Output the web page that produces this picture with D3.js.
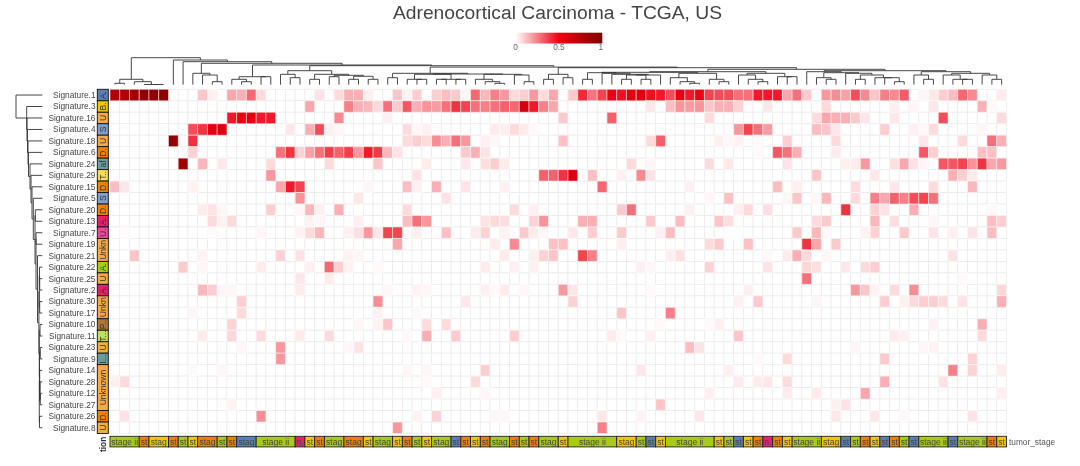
<!DOCTYPE html>
<html>
<head>
<meta charset="utf-8">
<script src="https://d3js.org/d3.v7.min.js"></script>
<style>
  body { margin: 0; background: #fff; }
  svg { display: block; filter: blur(0.3px); }
  text { font-family: "Liberation Sans", Arial, sans-serif; }
</style>
</head>
<body>
<div id="viz-container"></div>
<script>
const signatures = ['Signature.1','Signature.3','Signature.16','Signature.4','Signature.18','Signature.6','Signature.24','Signature.29','Signature.15','Signature.5','Signature.20','Signature.13','Signature.7','Signature.19','Signature.21','Signature.22','Signature.25','Signature.2','Signature.30','Signature.17','Signature.10','Signature.11','Signature.23','Signature.9','Signature.14','Signature.28','Signature.12','Signature.27','Signature.26','Signature.8'];

// [column, exposure] for the cells that are not empty
const sig1 = [[0,.8],[1,.8],[2,.85],[3,.92],[4,.92],[5,.95],[9,.15],[10,.05],[12,.22],[13,.2],[14,.35],[15,.1],[21,.08],[23,.1],[24,.2],[25,.2],[26,.05],[29,.15],[30,.04],[31,.13],[33,.13],[34,.17],[35,.14],[36,.03],[37,.35],[38,.18],[39,.3],[40,.25],[41,.1],[42,.13],[43,.25],[44,.1],[45,.22],[47,.14],[48,.47],[49,.32],[50,.42],[51,.55],[52,.52],[53,.6],[54,.6],[55,.52],[56,.5],[57,.4],[58,.55],[59,.5],[60,.55],[61,.42],[62,.4],[63,.4],[64,.33],[65,.33],[66,.5],[67,.5],[68,.5],[69,.22],[70,.33],[71,.14],[73,.25],[74,.27],[75,.23],[76,.4],[77,.28],[78,.15],[79,.3],[80,.28],[81,.37],[83,.03],[84,.07],[85,.13],[86,.17],[87,.35],[88,.28],[91,.06]];
const sig3 = [[20,.22],[24,.3],[25,.2],[26,.18],[27,.1],[28,.33],[29,.14],[30,.38],[31,.2],[32,.26],[33,.24],[34,.33],[35,.45],[36,.42],[37,.33],[38,.3],[39,.33],[40,.36],[41,.35],[42,.65],[43,.5],[44,.3],[45,.22],[55,.07],[57,.17],[58,.26],[59,.24],[60,.26],[61,.15],[62,.2],[63,.2],[64,.12],[67,.07],[73,.1],[80,.05],[82,.03],[84,.07],[89,.2],[90,.02]];
const sig16 = [[12,.5],[13,.55],[14,.57],[15,.5],[16,.5],[23,.28],[28,.05],[46,.14],[51,.36],[61,.1],[72,.1],[73,.22],[74,.2],[75,.2],[76,.14],[77,.07],[80,.07],[85,.4],[91,.1]];
const sig4 = [[8,.4],[9,.45],[10,.58],[11,.62],[18,.07],[20,.2],[21,.4],[22,.05],[23,.03],[30,.1],[31,.03],[32,.05],[39,.06],[40,.05],[41,.1],[42,.06],[43,.02],[64,.25],[65,.42],[66,.33],[67,.24],[72,.17],[73,.15],[74,.07],[79,.13],[82,.05],[83,.02],[84,.1],[89,.03]];
const sig18 = [[6,.92],[8,.45],[30,.1],[31,.13],[32,.1],[33,.27],[34,.2],[35,.33],[36,.25],[38,.05],[39,.03],[46,.16],[55,.1],[56,.36],[62,.05],[63,.03],[64,.04],[66,.02],[69,.13],[74,.1],[83,.07],[87,.1],[90,.33],[91,.2]];
const sig6 = [[8,.12],[17,.33],[18,.45],[19,.12],[20,.23],[21,.33],[22,.43],[23,.36],[24,.43],[25,.25],[26,.5],[27,.44],[28,.18],[29,.08],[36,.14],[37,.2],[38,.08],[66,.02],[68,.38],[69,.33],[70,.2],[74,.06],[83,.38],[84,.13],[89,.16],[90,.16]];
const sig24 = [[7,.85],[9,.18],[11,.07],[16,.1],[22,.1],[27,.15],[32,.06],[36,.07],[38,.09],[39,.13],[40,.06],[53,.1],[55,.03],[61,.1],[63,.07],[69,.08],[75,.05],[76,.06],[77,.25],[80,.09],[81,.22],[82,.08],[83,.03],[85,.38],[86,.38],[87,.42],[88,.26],[89,.45],[90,.22],[91,.25]];
const sig29 = [[16,.25],[31,.08],[44,.36],[45,.36],[46,.45],[47,.62],[49,.16],[52,.05],[54,.28],[55,.08],[72,.15],[78,.07],[86,.2],[87,.13],[88,.06]];
const sig15 = [[0,.17],[1,.07],[8,.04],[17,.22],[18,.5],[19,.42],[26,.03],[30,.17],[31,.05],[33,.2],[36,.08],[40,.05],[50,.35],[59,.05],[68,.17],[70,.05],[76,.1],[80,.07],[84,.1],[88,.18]];
const sig5 = [[19,.26],[25,.07],[34,.08],[61,.03],[63,.16],[69,.03],[70,.15],[72,.03],[73,.18],[76,.1],[78,.3],[79,.22],[80,.36],[81,.3],[82,.4],[83,.42],[84,.33]];
const sig20 = [[9,.06],[10,.08],[11,.03],[16,.13],[19,.03],[20,.18],[21,.05],[23,.2],[30,.1],[41,.1],[43,.05],[52,.14],[53,.33],[59,.05],[64,.05],[65,.1],[67,.09],[75,.45],[78,.12],[79,.08],[82,.2],[90,.02]];
const sig13 = [[10,.1],[11,.04],[12,.1],[20,.04],[21,.03],[25,.05],[30,.17],[31,.33],[32,.25],[38,.08],[39,.1],[40,.09],[43,.12],[44,.26],[48,.2],[49,.2],[55,.14],[58,.17],[62,.15],[63,.09],[72,.1],[73,.14],[78,.18],[80,.09],[84,.03],[90,.17],[91,.13]];
const sig7 = [[1,.015],[10,.015],[15,.03],[19,.04],[20,.1],[21,.18],[24,.05],[25,.09],[26,.25],[27,.07],[28,.42],[29,.42],[31,.05],[34,.16],[37,.06],[38,.12],[40,.04],[42,.14],[43,.06],[44,.03],[47,.07],[49,.13],[52,.14],[56,.05],[57,.17],[63,.01],[64,.01],[70,.14],[72,.18],[73,.02],[77,.04],[78,.12],[81,.14],[84,.08],[86,.05],[88,.08],[90,.17]];
const sig19 = [[29,.22],[39,.06],[41,.28],[45,.16],[46,.16],[52,.05],[61,.1],[62,.14],[65,.16],[71,.45],[72,.22],[74,.14]];
const sig21 = [[2,.15],[9,.04],[17,.12],[19,.08],[24,.04],[25,.03],[40,.06],[43,.05],[44,.12],[45,.15],[48,.42],[49,.3],[57,.05],[58,.09],[67,.02],[69,.06],[70,.2],[71,.1],[73,.03],[86,.08]];
const sig22 = [[7,.14],[9,.03],[15,.06],[20,.05],[22,.35],[23,.13],[24,.04],[27,.02],[38,.06],[41,.05],[43,.05],[54,.05],[55,.03],[61,.12],[67,.08],[71,.11],[72,.09],[75,.07],[77,.1],[78,.13]];
const sig25 = [[19,.07],[22,.06],[71,.33],[87,.02]];
const sig2 = [[9,.18],[10,.13],[11,.03],[12,.03],[19,.06],[28,.03],[31,.04],[32,.03],[38,.05],[39,.02],[40,.06],[42,.03],[46,.25],[47,.07],[55,.02],[65,.05],[76,.25],[77,.15],[78,.04],[80,.1],[82,.27],[91,.11]];
const sig30 = [[13,.13],[27,.27],[36,.07],[47,.12],[64,.05],[66,.14],[72,.03],[79,.13],[81,.05],[82,.1],[83,.13],[84,.13],[85,.1],[87,.08],[91,.2]];
const sig17 = [[8,.03],[13,.1],[27,.05],[31,.02],[52,.15],[57,.3]];
const sig10 = [[12,.12],[25,.03],[27,.04],[28,.15],[32,.1],[34,.1],[56,.02],[61,.02],[62,.05],[84,.04],[89,.2]];
const sig11 = [[9,.06],[12,.11],[15,.1],[19,.06],[22,.1],[30,.02],[32,.2],[35,.14],[41,.13],[51,.06],[52,.02],[55,.05],[64,.15],[80,.06],[81,.05],[89,.1]];
const sig23 = [[13,.03],[17,.25],[24,.03],[25,.08],[59,.17],[60,.08],[76,.03],[83,.03],[84,.04]];
const sig9 = [[17,.25],[66,.02],[69,.1],[79,.14],[88,.12]];
const sig14 = [[8,.02],[11,.03],[30,.03],[32,.03],[38,.13],[54,.07],[63,.05],[86,.3],[88,.12],[91,.06]];
const sig28 = [[0,.05],[1,.1],[32,.02],[37,.1],[64,.06],[66,.06],[67,.07],[69,.1],[79,.2],[85,.08]];
const sig12 = [[33,.05],[38,.03],[61,.05],[69,.06],[72,.06],[77,.22],[91,.05]];
const sig27 = [[12,.04],[56,.15],[74,.05],[75,.08]];
const sig26 = [[1,.08],[15,.27],[31,.04],[33,.12],[39,.03],[40,.03],[50,.07],[54,.04],[60,.07],[74,.07],[78,.07],[81,.02],[88,.08]];
const sig8 = [[29,.25],[50,.3]];

const exposures = [sig1,sig3,sig16,sig4,sig18,sig6,sig24,sig29,sig15,sig5,sig20,sig13,sig7,sig19,sig21,sig22,sig25,sig2,sig30,sig17,sig10,sig11,sig23,sig9,sig14,sig28,sig12,sig27,sig26,sig8];

const rowClass = ['aging','brca','unknown','smoking','unknown','dna','aflatoxin','chewing','dna','smoking','dna','apobec','uv','unknown','unknown','aristolochic','unknown','apobec','unknown','unknown','pole','temozolomide','unknown','immuno','unknown','unknown','unknown','unknown','dna','unknown'];
const classLabel = {aging:'A.',brca:'B.',smoking:'S',dna:'D.',aflatoxin:'af',chewing:'T..',apobec:'A.',uv:'U.',aristolochic:'A.',pole:'P..',temozolomide:'T...',immuno:'I...'};
const classColor = {aging:'#5b7fb5',brca:'#f0c800',unknown:'#f5aa45',smoking:'#7fa0cf',dna:'#ee8500',aflatoxin:'#6f9c9c',chewing:'#f5de55',apobec:'#e8206c',uv:'#e84a9c',aristolochic:'#a8cc10',pole:'#b07838',temozolomide:'#bfe060',immuno:'#6a9a9a'};

const tumorStage = ['stage ii','stage ii','stage ii','stage iv','stage iii','stage iii','stage iv','stage ii','stage iii','stage iv','stage iv','stage ii','stage iv','stage i','stage i','stage ii','stage ii','stage ii','stage ii','n.','stage iii','stage iv','stage ii','stage ii','stage iv','stage iv','stage iii','stage ii','stage ii','stage iii','stage iv','stage ii','stage iii','stage ii','stage ii','stage i','stage iv','stage iii','stage iv','stage ii','stage ii','stage iv','stage ii','stage iv','stage ii','stage ii','stage iii','stage ii','stage ii','stage ii','stage ii','stage ii','stage iii','stage iii','stage ii','stage i','stage iii','stage ii','stage ii','stage ii','stage ii','stage ii','stage iii','stage ii','stage i','stage iii','stage iv','n.','stage iv','stage iii','stage ii','stage ii','stage ii','stage iii','stage iii','stage i','stage ii','stage iv','stage iii','stage i','stage iv','stage ii','stage i','stage ii','stage ii','stage ii','stage i','stage ii','stage ii','stage ii','stage iv','stage iii'];
const stageColor = {'stage i':'#5b7fb5','stage ii':'#a8cc10','stage iii':'#f0c800','stage iv':'#ee8000','n.':'#e6206e'};

const legendTicks = [0,0.5,1];

// dendrograms as [height, left, right], a plain number is a column or a row
const treeA = [5.7,[1.7,0,1],[3.3,2,[0.5,3,[0.5,4,5]]]];
const treeC = [11.7,8,[10,9,[3.3,10,11]]];
const treeE = [8.3,[5.7,12,[3.3,13,14]],[8.3,15,16]];
const treeG = [14.3,[10.7,17,[7.3,18,19]],[10.7,[5.7,20,21],[9.7,[8.3,22,23],[8.7,[5.7,24,25],[5.7,26,27]]]]];
const treeJ = [11.7,[7.3,28,29],[11,[10.7,[5.7,30,[5.7,31,32]],[5.7,[5.7,33,34],[5.7,35,36]]],[10.7,[5.7,37,[3.3,38,[1.7,39,40]]],[10,41,[3.3,42,43]]]]];
const treeL = [10.7,[5.7,44,45],[7.3,46,47]];
const treeW = [12.3,[5.7,48,49],[11.7,50,[10.7,51,[10,[10,[5.7,52,53],[5.7,54,55]],56]]]];
const treeX = [11.7,[7.3,57,[3.3,58,[1.7,59,60]]],[5.7,61,[3.3,62,63]]];
const treeS = [11.7,[10,64,[5.7,65,[3.3,66,67]]],[8.3,68,[8.3,69,70]]];
const treeP = [13.3,71,[12.3,[7.3,72,[5.7,73,74]],[11.7,75,[10,[5.7,76,77],[7.3,78,[7.3,79,[3.3,80,81]]]]]]];
const treeQ = [13.3,[10,82,[5.7,83,84]],[11.7,[10,85,[5.7,86,[5.7,87,88]]],[10,89,[5.7,90,91]]]];
const treeN = [13.3,[12.7,treeW,treeX],treeS];
const treeM = [15.7,treeN,[14.3,treeP,treeQ]];
const treeK = [17.3,treeL,treeM];
const treeD = [20,treeE,[19.3,treeG,[17.9,treeJ,treeK]]];
const topTree = [27.3,treeA,[25,6,[23.3,7,[21.7,treeC,treeD]]]];

const leftLower = [3.8,[3.4,[3.2,15,[3,16,17]],[3,18,19]],[3.4,[2.7,20,21],[3.2,[2.4,22,23],[3.4,[3,24,[2.6,25,[2.4,26,27]]],[3.2,28,29]]]]];
const leftMiddle = [7.7,[7.4,10,11],[6.7,[6.7,12,13],[5.2,14,leftLower]]];
const leftTree = [26.7,0,[16,1,[15.7,2,[15.2,3,[14.7,4,[14.2,5,[12.7,6,[11.7,7,[10.7,8,[9.4,9,leftMiddle]]]]]]]]]];

let viz = d3.select('#viz-container')
  .append('svg')
    .attr('id','viz')
    .attr('width',1080)
    .attr('height',466)
;

let xScale = d3.scaleBand().domain(d3.range(tumorStage.length)).range([110,1006.5]);
let yScale = d3.scaleBand().domain(signatures).range([89.3,433.5]);
let colorScale = d3.scaleLinear().domain([0,0.5,1]).range(['#ffffff','#ee0011','#7f0000']);
// my readings of the pale cells came out a bit high, this pulls them back
let paleFix = d3.scalePow().exponent(1.15).domain([0,1]).range([0,1]);
let topHeight = d3.scaleLinear().domain([0,27.3]).range([85,57.7]);
let leftHeight = d3.scaleLinear().domain([0,26.7]).range([42.7,16]);

viz.append('text')
    .attr('x',557.5)
    .attr('y',18.7)
    .attr('text-anchor','middle')
    .attr('font-size',19.25)
    .attr('fill','#444')
    .text('Adrenocortical Carcinoma - TCGA, US');

// empty grid first, then the filled cells
let cellList = [];
signatures.forEach(function(sig,r){
  exposures[r].forEach(function(d){
    cellList.push({sig:sig,col:d[0],value:d[1]});
  });
});

let grid = viz.append('g');
signatures.forEach(function(sig){
  grid.append('g').selectAll('rect').data(xScale.domain()).enter()
    .append('rect')
      .attr('x',function(c){ return xScale(c); })
      .attr('y',yScale(sig))
      .attr('width',xScale.bandwidth())
      .attr('height',yScale.bandwidth())
      .attr('fill','#fff')
      .attr('stroke','#ececec')
      .attr('stroke-width',0.8);
});

viz.append('g').selectAll('rect').data(cellList).enter()
  .append('rect')
    .attr('x',function(d){ return xScale(d.col); })
    .attr('y',function(d){ return yScale(d.sig); })
    .attr('width',xScale.bandwidth())
    .attr('height',yScale.bandwidth())
    .attr('fill',function(d){ return colorScale(paleFix(d.value)); })
    .attr('stroke','#fff')
    .attr('stroke-opacity',0.5)
    .attr('stroke-width',1);

viz.append('g').selectAll('text').data(signatures).enter()
  .append('text')
    .attr('x',95.5)
    .attr('y',function(d){ return yScale(d)+yScale.bandwidth()/2; })
    .attr('dy','0.35em')
    .attr('text-anchor','end')
    .attr('font-size',8.3)
    .attr('fill','#444')
    .text(function(d){ return d; });

// merge neighbours that share a class into one box
function runs(list){
  let out = [];
  list.forEach(function(v,i){
    let last = out[out.length-1];
    if(last && last.key == v){
      last.end = i;
    }else{
      out.push({key:v,start:i,end:i});
    }
  });
  return out;
}

function unknownText(n){
  if(n >= 4){ return 'Unknown'; }
  if(n >= 2){ return 'Unkn'; }
  return 'U';
}

let rowBoxes = viz.append('g').selectAll('g').data(runs(rowClass)).enter().append('g');
rowBoxes.append('rect')
    .attr('x',97.3)
    .attr('y',function(d){ return yScale(signatures[d.start]); })
    .attr('width',11)
    .attr('height',function(d){ return (d.end-d.start+1)*yScale.step(); })
    .attr('fill',function(d){ return classColor[d.key]; })
    .attr('stroke','#111')
    .attr('stroke-width',0.9);
rowBoxes.append('text')
    .attr('transform',function(d){
      let mid = yScale(signatures[d.start]) + (d.end-d.start+1)*yScale.step()/2;
      return 'translate(102.8,'+mid+') rotate(-90)';
    })
    .attr('dy','0.35em')
    .attr('text-anchor','middle')
    .attr('font-size',8.5)
    .attr('fill','#333')
    .text(function(d){
      return d.key == 'unknown' ? unknownText(d.end-d.start+1) : classLabel[d.key];
    });

function stageText(d){
  let n = d.end-d.start+1;
  if(d.key == 'n.'){ return 'n.'; }
  if(n >= 3){ return d.key; }
  if(n == 2){ return 'stag'; }
  return 'st';
}

let stageBoxes = viz.append('g').selectAll('g').data(runs(tumorStage)).enter().append('g');
stageBoxes.append('rect')
    .attr('x',function(d){ return xScale(d.start); })
    .attr('y',436.3)
    .attr('width',function(d){ return (d.end-d.start+1)*xScale.step(); })
    .attr('height',10.6)
    .attr('fill',function(d){ return stageColor[d.key]; })
    .attr('stroke','#222')
    .attr('stroke-width',0.9);
stageBoxes.append('text')
    .attr('x',function(d){ return xScale(d.start) + (d.end-d.start+1)*xScale.step()/2; })
    .attr('y',441.7)
    .attr('dy','0.35em')
    .attr('text-anchor','middle')
    .attr('font-size',8.5)
    .attr('fill','#444')
    .text(stageText);

viz.append('text')
    .attr('x',1009)
    .attr('y',441.7)
    .attr('dy','0.35em')
    .attr('font-size',8.3)
    .attr('fill','#555')
    .text('tumor_stage');

viz.append('text')
    .attr('transform','translate(103,452) rotate(-90)')
    .attr('dy','0.35em')
    .attr('font-size',8.3)
    .attr('font-weight','bold')
    .attr('fill','#333')
    .text('tion');

// walk a tree, collect the elbow of each node, return where its stem sits
function walk(node,pos,out){
  if(typeof node == 'number'){
    return {at:pos(node),h:0.4};
  }
  let a = walk(node[1],pos,out);
  let b = walk(node[2],pos,out);
  out.push({h:node[0],a:a,b:b});
  return {at:(a.at+b.at)/2,h:node[0]};
}

let topElbows = [];
walk(topTree,function(c){ return xScale(c)+xScale.bandwidth()/2; },topElbows);
viz.append('g').selectAll('path').data(topElbows).enter()
  .append('path')
    .attr('d',function(d){
      return 'M'+d.a.at+','+topHeight(d.a.h)+'V'+topHeight(d.h)+'H'+d.b.at+'V'+topHeight(d.b.h);
    })
    .attr('fill','none')
    .attr('stroke','#333')
    .attr('stroke-width',0.9);

let leftElbows = [];
walk(leftTree,function(r){ return yScale(signatures[r])+yScale.bandwidth()/2; },leftElbows);
viz.append('g').selectAll('path').data(leftElbows).enter()
  .append('path')
    .attr('d',function(d){
      return 'M'+leftHeight(d.a.h)+','+d.a.at+'H'+leftHeight(d.h)+'V'+d.b.at+'H'+leftHeight(d.b.h);
    })
    .attr('fill','none')
    .attr('stroke','#333')
    .attr('stroke-width',0.9);

// legend
let legendX = d3.scaleLinear().domain([0,1]).range([515.5,602.3]);
let gradient = viz.append('defs').append('linearGradient').attr('id','legendRamp');
gradient.selectAll('stop').data(d3.range(0,1.01,0.1)).enter()
  .append('stop')
    .attr('offset',function(d){ return d; })
    .attr('stop-color',function(d){ return colorScale(d); });
viz.append('rect')
    .attr('x',legendX(0))
    .attr('y',32.7)
    .attr('width',legendX(1)-legendX(0))
    .attr('height',10.8)
    .attr('fill','url(#legendRamp)');
viz.append('g').selectAll('text').data(legendTicks).enter()
  .append('text')
    .attr('x',function(d){ return d == 0 ? legendX(0) : d == 1 ? legendX(1)-1.5 : legendX(d); })
    .attr('y',47.3)
    .attr('dy','0.35em')
    .attr('text-anchor','middle')
    .attr('font-size',8.3)
    .attr('fill','#666')
    .text(function(d){ return d; });
</script>
</body>
</html>
